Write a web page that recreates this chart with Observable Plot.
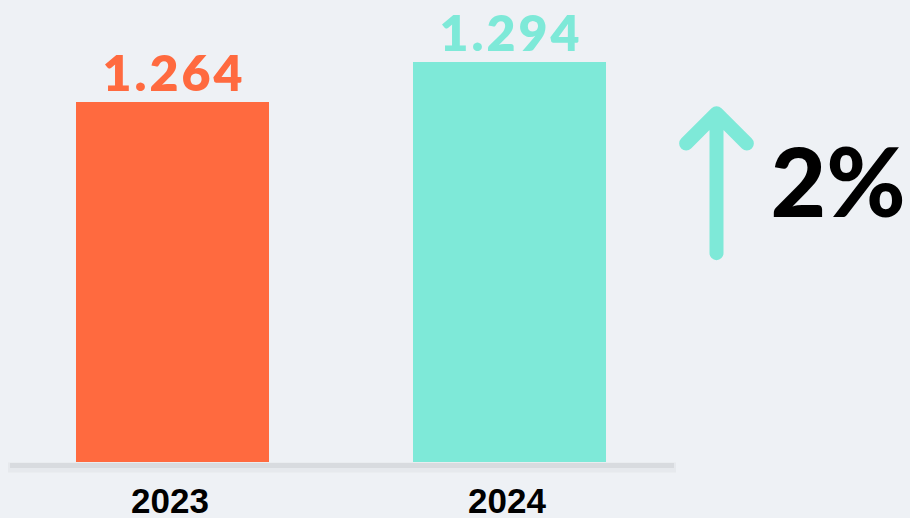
<!DOCTYPE html>
<html>
<head>
<meta charset="utf-8">
<script src="https://cdn.jsdelivr.net/npm/d3@7"></script>
<script src="https://cdn.jsdelivr.net/npm/@observablehq/plot@0.6"></script>
<style>
  html, body { margin: 0; padding: 0; background: #eef1f5; }
  #chart { width: 910px; height: 518px; overflow: hidden; }
  svg { display: block; }
  svg g[font-size="50"] text { letter-spacing: 3px; }
</style>
</head>
<body>
<div id="chart"></div>
<script>
const years = ["2023", "2024"];
const values = [1.264, 1.294];
const labels = ["1.264", "1.294"];
const colors = ["#ff6a3f", "#7ee9d8"];

const base = 0.994;
const data = years.map((year, i) => ({year, value: values[i], label: labels[i], color: colors[i]}));
const change = Math.round((values[1] - values[0]) / values[0] * 100);
const changeLabel = `${change}%`;

const arrowFrom = 1.151, arrowTo = 1.256;

const chart = Plot.plot({
  width: 910,
  height: 518,
  marginTop: 0, marginRight: 0, marginBottom: 56, marginLeft: 0,
  style: {background: "#eef1f5", overflow: "hidden"},
  x: {type: "band", domain: years, range: [75.5, 606], paddingInner: 0.428, paddingOuter: 0, axis: null},
  y: {domain: [base, base + 462 / 1333.33], range: [462, 0], axis: null},
  marks: [
    Plot.ruleY([base], {stroke: "#e2e5e9", strokeWidth: 10, dy: 5, insetLeft: 8, insetRight: 234, strokeOpacity: 0.7}),
    Plot.ruleY([base], {stroke: "#d8dbdf", strokeWidth: 5, dy: 3, insetLeft: 10, insetRight: 236}),
    Plot.barY(data, {x: "year", y1: base, y2: "value", fill: "color"}),
    Plot.text(data, {x: "year", y: "value", text: "label", fill: "color", dy: -12, lineAnchor: "bottom",
      fontSize: 50, fontWeight: 800, fontFamily: "Lato, 'Open Sans', sans-serif", dx: 1}),
    Plot.text(data, {x: "year", y: base, text: "year", fill: "#000", dy: 50, dx: -3, lineAnchor: "bottom",
      fontSize: 35, fontWeight: "bold", fontFamily: "'Liberation Sans', Arial, sans-serif"}),
    Plot.arrow([years[1]], {x1: d => d, x2: d => d, y1: arrowFrom, y2: arrowTo, dx: 206.5,
      stroke: "#7ee9d8", strokeWidth: 14, headLength: 4.6, headAngle: 90, strokeLinecap: "round", strokeLinejoin: "round"}),
    Plot.text([changeLabel], {x: () => years[1], y: () => 1.201, dx: 328, text: d => d, fill: "#000",
      fontSize: 96, fontWeight: 900, fontFamily: "Lato, 'Open Sans', sans-serif", lineAnchor: "middle"})
  ]
});
document.getElementById("chart").append(chart);
</script>
</body>
</html>
